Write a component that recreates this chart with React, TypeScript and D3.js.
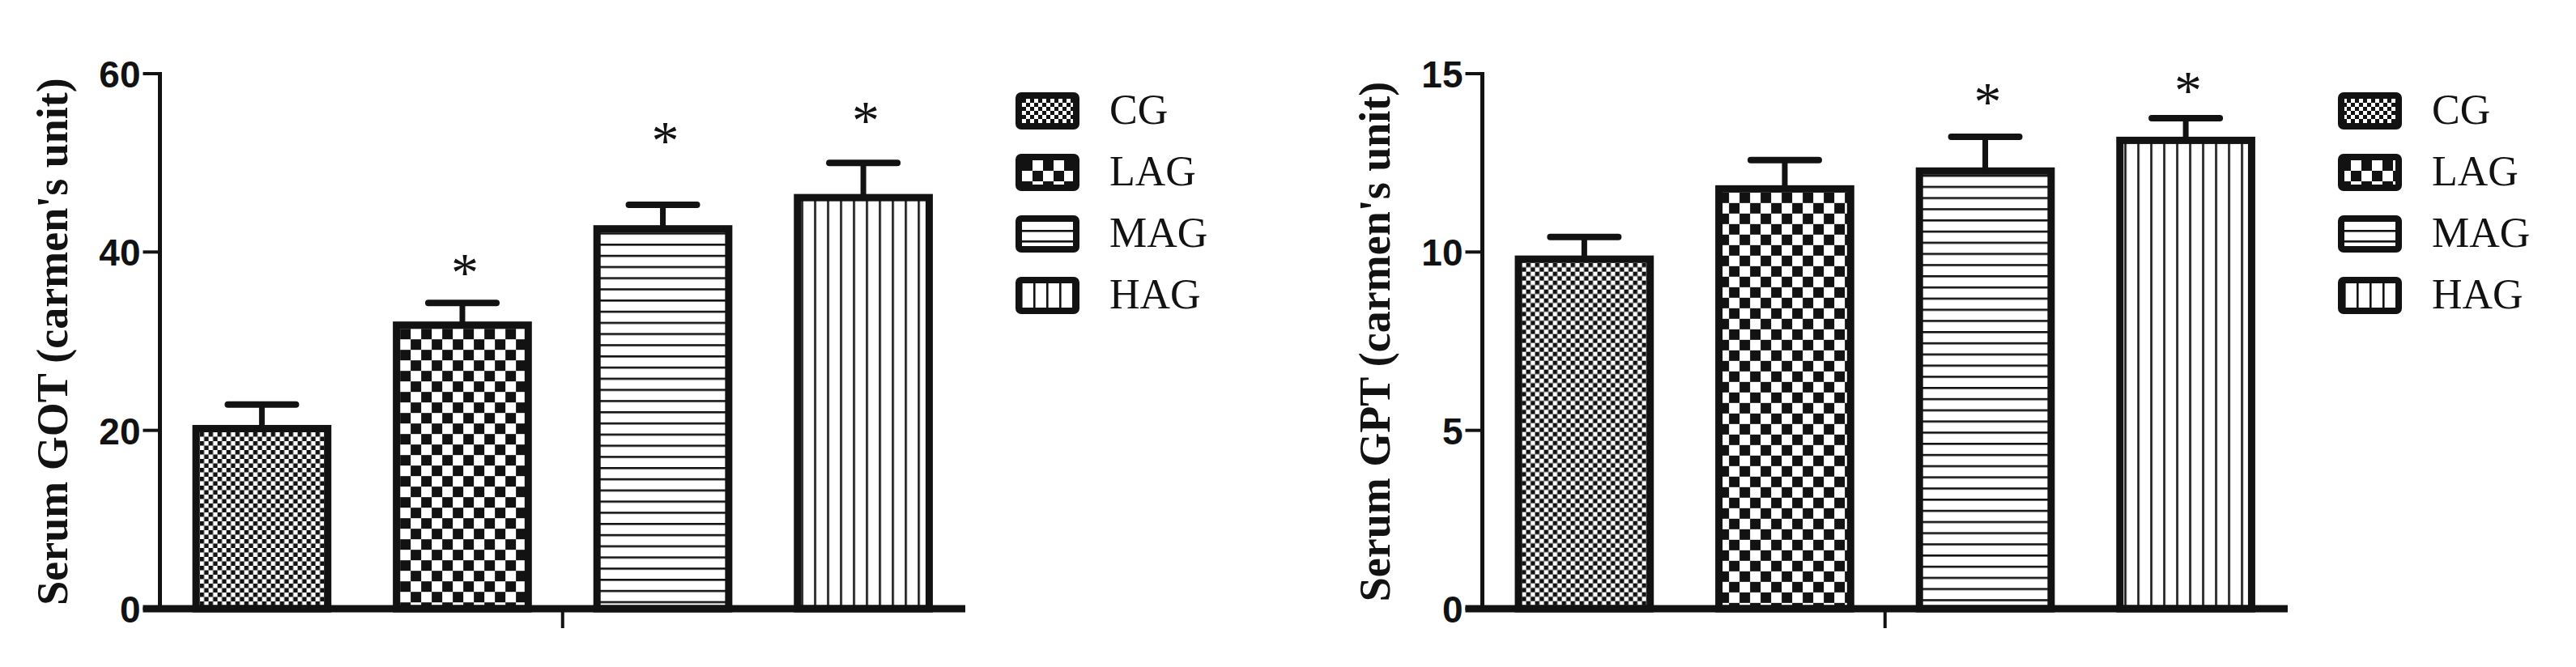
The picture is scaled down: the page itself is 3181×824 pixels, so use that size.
import React from 'react';
import * as d3 from 'd3';

const groups = ['CG', 'LAG', 'MAG', 'HAG'];
const gotMeans = [20.2, 31.8, 42.6, 46.1];
const gotErrors = [2.7, 2.5, 2.7, 3.9];
const gotStars: (number | null)[] = [null, 38.7, 53.5, 55.7];
const gotTicks = [0, 20, 40, 60];
const gptMeans = [9.8, 11.77, 12.27, 13.13];
const gptErrors = [0.62, 0.81, 0.96, 0.62];
const gptStars: (number | null)[] = [null, null, 14.46, 14.77];
const gptTicks = [0, 5, 10, 15];
const axisTitles = ["Serum GOT (carmen's unit)", "Serum GPT (carmen's unit)"];

const INK = '#121212';

function PatternDef({ id, kind, ox, oy, legend }: { id: string; kind: string; ox: number; oy: number; legend?: boolean }) {
  const tr = `translate(${ox},${oy})`;
  if (kind === 'CG') {
    const s = legend ? 5 : 5.5;
    return (
      <pattern id={id} patternUnits="userSpaceOnUse" width={2 * s} height={2 * s} patternTransform={tr}>
        <rect width={2 * s} height={2 * s} fill="#fff" />
        <rect x={0} y={0} width={s} height={s} fill={INK} />
        <rect x={s} y={s} width={s} height={s} fill={INK} />
      </pattern>
    );
  }
  if (kind === 'LAG') {
    const s = 13;
    return (
      <pattern id={id} patternUnits="userSpaceOnUse" width={2 * s} height={2 * s} patternTransform={tr}>
        <rect width={2 * s} height={2 * s} fill="#fff" />
        <rect x={0} y={0} width={s} height={s} fill={INK} />
        <rect x={s} y={s} width={s} height={s} fill={INK} />
      </pattern>
    );
  }
  if (kind === 'MAG') {
    const p = legend ? 13 : 13.8;
    return (
      <pattern id={id} patternUnits="userSpaceOnUse" width={10} height={p} patternTransform={tr}>
        <rect width={10} height={p} fill="#fff" />
        <rect x={0} y={0} width={10} height={2.6} fill={INK} />
      </pattern>
    );
  }
  const p = 16;
  return (
    <pattern id={id} patternUnits="userSpaceOnUse" width={p} height={10} patternTransform={tr}>
      <rect width={p} height={10} fill="#fff" />
      <rect x={0} y={0} width={2.6} height={10} fill={INK} />
    </pattern>
  );
}

function Panel({ idx, dx, means, errors, stars, ticks, title }: any) {
  const axisLeft = 197.5;
  const axisRight = 1192;
  const yBottom = 752;
  const yTop = 91;
  const x = d3.scaleBand<string>().domain(groups).range([axisLeft, axisRight]).paddingInner(0.343).paddingOuter(0.18);
  const y = d3.scaleLinear().domain([0, ticks[ticks.length - 1]]).range([yBottom, yTop]);
  const bw = x.bandwidth();
  const barStroke = 9;
  const legendX = 1258;
  const legendY0 = 118;
  const legendStep = 76;
  return (
    <g transform={`translate(${dx},0)`}>
      <defs>
        {groups.map((g, i) => {
          const bx = x(g)! + barStroke / 2;
          const by = y(means[i]) + barStroke / 2;
          return <PatternDef key={g} id={`bar-${idx}-${g}`} kind={g} ox={bx + dx} oy={by} />;
        })}
        {groups.map((g, i) => {
          const ly = legendY0 + i * legendStep;
          let ox = legendX + 4 + dx;
          let oy = ly + 4;
          if (g === 'MAG') oy = ly + 4 + 10;
          if (g === 'HAG') ox = legendX + 4 + 14 + dx;
          return <PatternDef key={g} id={`leg-${idx}-${g}`} kind={g} ox={ox} oy={oy} legend />;
        })}
      </defs>

      {/* y axis title */}
      <text
        transform={`translate(83,422) rotate(-90)`}
        textAnchor="middle"
        fontFamily="'Liberation Serif', 'Times New Roman', serif"
        fontWeight="bold"
        fontSize={54}
        fill={INK}
      >
        {title}
      </text>

      {/* y axis */}
      <line x1={axisLeft} x2={axisLeft} y1={yTop - 2} y2={yBottom} stroke={INK} strokeWidth={5} />
      {ticks.map((t: number) => (
        <g key={t}>
          <line x1={axisLeft - 21} x2={axisLeft} y1={y(t)} y2={y(t)} stroke={INK} strokeWidth={4} />
          <text
            x={axisLeft - 24}
            y={y(t) + 17}
            textAnchor="end"
            fontFamily="'Liberation Sans', Arial, sans-serif"
            fontWeight="bold"
            fontSize={46}
            fill={INK}
          >
            {t}
          </text>
        </g>
      ))}

      {/* bars */}
      {groups.map((g, i) => {
        const bx = x(g)!;
        const top = y(means[i]);
        return (
          <rect
            key={g}
            x={bx}
            y={top}
            width={bw}
            height={yBottom - top}
            fill={`url(#bar-${idx}-${g})`}
            stroke={INK}
            strokeWidth={barStroke}
          />
        );
      })}

      {/* error bars */}
      {groups.map((g, i) => {
        const cx = x(g)! + bw / 2;
        const top = y(means[i]);
        const cap = y(means[i] + errors[i]);
        return (
          <g key={g}>
            <line x1={cx} x2={cx} y1={top} y2={cap} stroke={INK} strokeWidth={7} />
            <line x1={cx - 42} x2={cx + 42} y1={cap} y2={cap} stroke={INK} strokeWidth={8} strokeLinecap="round" />
          </g>
        );
      })}

      {/* significance stars */}
      {groups.map((g, i) =>
        stars[i] == null ? null : (
          <text
            key={g}
            x={x(g)! + bw / 2 + 3}
            y={y(stars[i]) + 33}
            textAnchor="middle"
            fontFamily="'Liberation Serif', 'Times New Roman', serif"
            fontSize={68}
            fill={INK}
          >
            *
          </text>
        )
      )}

      {/* x axis */}
      <line x1={axisLeft - 21} x2={axisRight} y1={yBottom} y2={yBottom} stroke={INK} strokeWidth={9} />
      <line
        x1={(axisLeft + axisRight) / 2}
        x2={(axisLeft + axisRight) / 2}
        y1={yBottom}
        y2={yBottom + 24}
        stroke={INK}
        strokeWidth={4}
      />

      {/* legend */}
      {groups.map((g, i) => {
        const ly = legendY0 + i * legendStep;
        return (
          <g key={g}>
            <rect x={legendX} y={ly} width={71} height={38} rx={3} fill={`url(#leg-${idx}-${g})`} stroke={INK} strokeWidth={8} />
            <text
              x={1370}
              y={ly + 19 + 16}
              fontFamily="'Liberation Serif', 'Times New Roman', serif"
              fontSize={52}
              fill={INK}
            >
              {g}
            </text>
          </g>
        );
      })}
    </g>
  );
}

export default function App() {
  const W = 3181;
  const H = 824;
  return (
    <svg
      width={W}
      height={H}
      viewBox={`0 0 ${W} ${H}`}
      style={{ position: 'absolute', left: 0, top: 0, background: '#fff', display: 'block' }}
    >
      <rect width={W} height={H} fill="#fff" />
      <Panel idx={0} dx={0} means={gotMeans} errors={gotErrors} stars={gotStars} ticks={gotTicks} title={axisTitles[0]} />
      <Panel idx={1} dx={1633} means={gptMeans} errors={gptErrors} stars={gptStars} ticks={gptTicks} title={axisTitles[1]} />
    </svg>
  );
}
